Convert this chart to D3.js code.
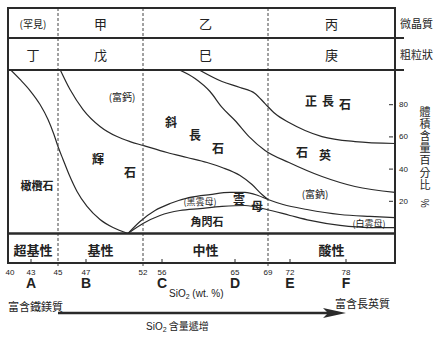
<!DOCTYPE html>
<html><head><meta charset="utf-8">
<script src="https://cdn.jsdelivr.net/npm/d3@7"></script>
<style>
body{margin:0;background:#fff}
svg{display:block}
text{font-family:"Noto Sans CJK TC","Noto Sans CJK SC","Noto Sans",sans-serif;fill:#222}
.lat{font-family:"Liberation Sans",Arial,sans-serif}
</style>
</head><body>
<svg id="c" width="444" height="337"></svg>
<script>
// ---------- data ----------
const divisions = [45, 52, 69];                 // dashed SiO2 boundaries
const columnEdges = [40, 45, 52, 69, 83.25];
const fineRow = ["(罕見)", "甲", "乙", "丙"];
const coarseRow = ["丁", "戊", "巳", "庚"];
const rockClass = ["超基性", "基性", "中性", "酸性"];
const siTicks = [40, 43, 45, 47, 52, 56, 65, 69, 72, 78];
const letterTicks = [43, 47, 56, 65, 72, 78];
const letters = ["A", "B", "C", "D", "E", "F"];
const volTicks = [20, 40, 60, 80];
const yTitle = "體積含量百分比";

// boundary curves: [SiO2 wt%, cumulative volume %]
const olivineTop = [[40.26,102],[41.57,95.7],[42.87,88.8],[43.67,80.1],[44.26,70.8],[44.7,61.5],[45,54],[45.36,46],[45.79,36.6],[46.36,26.1],[47.09,16.8],[48.23,8.7],[49.37,3.7],[50.68,0]];
const pyroxeneTop = [[45.14,102],[45.86,89.4],[46.79,77],[48.23,66.5],[49.72,60.2],[50.86,57.1],[52,54.7],[56.62,50.3],[59.08,47.2],[61.55,44.1],[63.4,41],[65.61,36],[67.06,30.4],[68.27,24.2],[69,21.1]];
const biotiteTop = [[50.68,0],[51.74,7.5],[54.53,14.3],[56.99,18.6],[59.45,22.4],[61.92,24.2],[64.38,25.5],[66.21,25.5],[67.79,23.6],[69,21.1],[71.05,18],[73.82,14.9],[77.36,11.8],[80.57,10.6],[83.25,9.9]];
const amphiboleTop = [[50.68,0],[52,6.2],[55.58,11.2],[58.22,14.3],[60.68,15.5],[63.4,16.8],[66.21,17.4],[68.88,14.9],[72,11.2],[74.14,8.1],[77.36,5],[80.57,3.7],[83.25,3.7]];
const plagioclaseTop = [[57.97,102],[60.07,96.3],[61.92,88.2],[63.4,78.3],[65,70.2],[66.7,60.2],[68.64,51.6],[71.86,44.1],[75.43,35.4],[78.96,29.2],[83.25,25.5]];
const quartzTop = [[60.44,102],[63.4,94.4],[65.61,90.7],[67.42,87],[68.64,80.7],[69.95,74.5],[71.86,68.9],[73.61,64],[75.43,60.2],[78.96,57.1],[83.25,55.9]];

const mineralLabels = [
  {t:"橄欖石", si:43.44, v:30.4, s:11, b:1},
  {t:"(富鈣)", si:50.16, v:85.1, s:10, b:0},
  {t:"輝", si:48.05, v:46.6, s:12, b:1},
  {t:"石", si:50.86, v:38.5, s:12, b:1},
  {t:"斜", si:57.11, v:69.6, s:12, b:1},
  {t:"長", si:60.07, v:61.5, s:12, b:1},
  {t:"石", si:62.9, v:53.4, s:12, b:1},
  {t:"正", si:74.25, v:82.6, s:12, b:1},
  {t:"長", si:76.07, v:82.6, s:12, b:1},
  {t:"石", si:77.89, v:80.7, s:12, b:1},
  {t:"石", si:73.29, v:50.9, s:12, b:1},
  {t:"英", si:75.75, v:49.1, s:12, b:1},
  {t:"(富鈉)", si:74.68, v:24.8, s:10, b:0},
  {t:"(黑雲母)", si:60.68, v:19.9, s:9, b:0},
  {t:"雲", si:65.48, v:21.7, s:12, b:1},
  {t:"母", si:67.67, v:17.4, s:12, b:1},
  {t:"角閃石", si:61.55, v:7.5, s:11, b:1},
  {t:"(白雲母)", si:80.46, v:6.2, s:9, b:0}
];

// ---------- scales ----------
const x = d3.scaleLinear()
  .domain([40,43,45,47,52,56,65,69,72,78,83.25])
  .range([8,31,58,86,143,162,235,268,290,346,395]);
const y = d3.scaleLinear().domain([0,100]).range([233.5,72.5]);

const svg = d3.select("#c");
const L = x(40), R = x(83.25);
const top0 = 8, row1 = 38, row2 = 70, plotB = 233.5, boxB = 263;
const ink = "#2a2a2a";

// clip for curves
svg.append("clipPath").attr("id","pc").append("rect")
  .attr("x",L).attr("y",row2).attr("width",R-L).attr("height",plotB-row2);

// curves
const line = d3.line().x(d=>x(d[0])).y(d=>y(d[1])).curve(d3.curveMonotoneX);
const curves = [olivineTop, pyroxeneTop, biotiteTop, amphiboleTop, plagioclaseTop, quartzTop];
svg.append("g").attr("clip-path","url(#pc)")
  .selectAll("path").data(curves).join("path")
  .attr("d", line).attr("fill","none").attr("stroke",ink).attr("stroke-width",1.2);

// dashed divisions
svg.append("g").selectAll("line").data(divisions).join("line")
  .attr("x1",d=>x(d)).attr("x2",d=>x(d)).attr("y1",top0).attr("y2",boxB+3)
  .attr("stroke","#444").attr("stroke-width",1).attr("stroke-dasharray","3,2");

// frame
const fr = svg.append("g").attr("stroke",ink).attr("fill","none");
fr.append("rect").attr("x",L).attr("y",top0).attr("width",R-L).attr("height",boxB-top0).attr("stroke-width",2);
fr.append("line").attr("x1",L).attr("x2",R+9).attr("y1",row1).attr("y2",row1).attr("stroke-width",2);
fr.append("line").attr("x1",L).attr("x2",R+9).attr("y1",row2).attr("y2",row2).attr("stroke-width",2);
fr.append("line").attr("x1",L).attr("x2",R).attr("y1",plotB).attr("y2",plotB).attr("stroke-width",2.6);

// column labels
const cols = d3.range(4).map(i=>(x(columnEdges[i])+x(columnEdges[i+1]))/2);
svg.append("g").selectAll("text").data(fineRow).join("text")
  .attr("x",(d,i)=>cols[i]).attr("y",(top0+row1)/2).attr("text-anchor","middle")
  .attr("dominant-baseline","central").attr("font-size",(d,i)=>i==0?10:13).text(d=>d);
svg.append("g").selectAll("text").data(coarseRow).join("text")
  .attr("x",(d,i)=>cols[i]).attr("y",(row1+row2)/2).attr("text-anchor","middle")
  .attr("dominant-baseline","central").attr("font-size",13).text(d=>d);
svg.append("g").selectAll("text").data(rockClass).join("text")
  .attr("x",(d,i)=>cols[i]).attr("y",(plotB+boxB)/2+1).attr("text-anchor","middle")
  .attr("dominant-baseline","central").attr("font-size",13).attr("font-weight","bold").text(d=>d);
svg.append("text").attr("x",R+5).attr("y",(top0+row1)/2).attr("dominant-baseline","central").attr("font-size",11).text("微晶質");
svg.append("text").attr("x",R+5).attr("y",(row1+row2)/2).attr("dominant-baseline","central").attr("font-size",11).text("粗粒狀");

// mineral labels
svg.append("g").selectAll("text").data(mineralLabels).join("text")
  .attr("x",d=>x(d.si)).attr("y",d=>y(d.v)).attr("text-anchor","middle")
  .attr("dominant-baseline","central").attr("font-size",d=>d.s)
  .attr("font-weight",d=>d.b?"bold":"normal").text(d=>d.t);

// x ticks
svg.append("g").selectAll("line").data(letterTicks).join("line")
  .attr("x1",d=>x(d)).attr("x2",d=>x(d)).attr("y1",boxB-4).attr("y2",boxB)
  .attr("stroke",ink).attr("stroke-width",1);
svg.append("g").selectAll("text").data(siTicks).join("text").attr("class","lat")
  .attr("x",d=>x(d)+(d==40?2:0)).attr("y",272).attr("text-anchor","middle")
  .attr("dominant-baseline","central").attr("font-size",8).text(d=>d);
svg.append("g").selectAll("text").data(letters).join("text").attr("class","lat")
  .attr("x",(d,i)=>x(letterTicks[i])).attr("y",283).attr("text-anchor","middle")
  .attr("dominant-baseline","central").attr("font-size",14).attr("font-weight","bold").text(d=>d);

const sx = svg.append("text").attr("class","lat").attr("x",169).attr("y",297).attr("font-size",10);
sx.append("tspan").text("SiO");
sx.append("tspan").attr("font-size",7).attr("dy",2).text("2");
sx.append("tspan").attr("dy",-2).text(" (wt. %)");

// y ticks (right)
svg.append("g").selectAll("line").data(volTicks).join("line")
  .attr("x1",R-6).attr("x2",R-2).attr("y1",d=>y(d)).attr("y2",d=>y(d))
  .attr("stroke",ink).attr("stroke-width",1);
svg.append("g").selectAll("text").data(volTicks).join("text").attr("class","lat")
  .attr("x",R+4).attr("y",d=>y(d)).attr("dominant-baseline","central")
  .attr("font-size",8).text(d=>d);
svg.append("text").attr("x",425).attr("y",106)
  .style("writing-mode","vertical-rl").style("letter-spacing","1.2px")
  .attr("font-size",11).text(yTitle);
svg.append("text").attr("transform","translate(425,203) rotate(90)").attr("text-anchor","middle")
  .attr("dominant-baseline","central").attr("font-size",10).text("%");

// bottom annotations and arrow
svg.append("text").attr("x",L).attr("y",306).attr("dominant-baseline","central").attr("font-size",11).text("富含鐵鎂質");
svg.append("text").attr("x",335).attr("y",303).attr("dominant-baseline","central").attr("font-size",11).text("富含長英質");
svg.append("line").attr("x1",x(45)).attr("x2",x(78)-16).attr("y1",313).attr("y2",313)
  .attr("stroke",ink).attr("stroke-width",2.4);
svg.append("path")
  .attr("d",`M${x(78)},313 L${x(78)-23},308 L${x(78)-18},313 L${x(78)-23},318 Z`)
  .attr("fill",ink);
const ar = svg.append("text").attr("x",146).attr("y",330).attr("font-size",10);
ar.append("tspan").attr("class","lat").text("SiO");
ar.append("tspan").attr("class","lat").attr("font-size",7).attr("dy",2).text("2");
ar.append("tspan").attr("dy",-2).text(" 含量遞增");
</script>
</body></html>
